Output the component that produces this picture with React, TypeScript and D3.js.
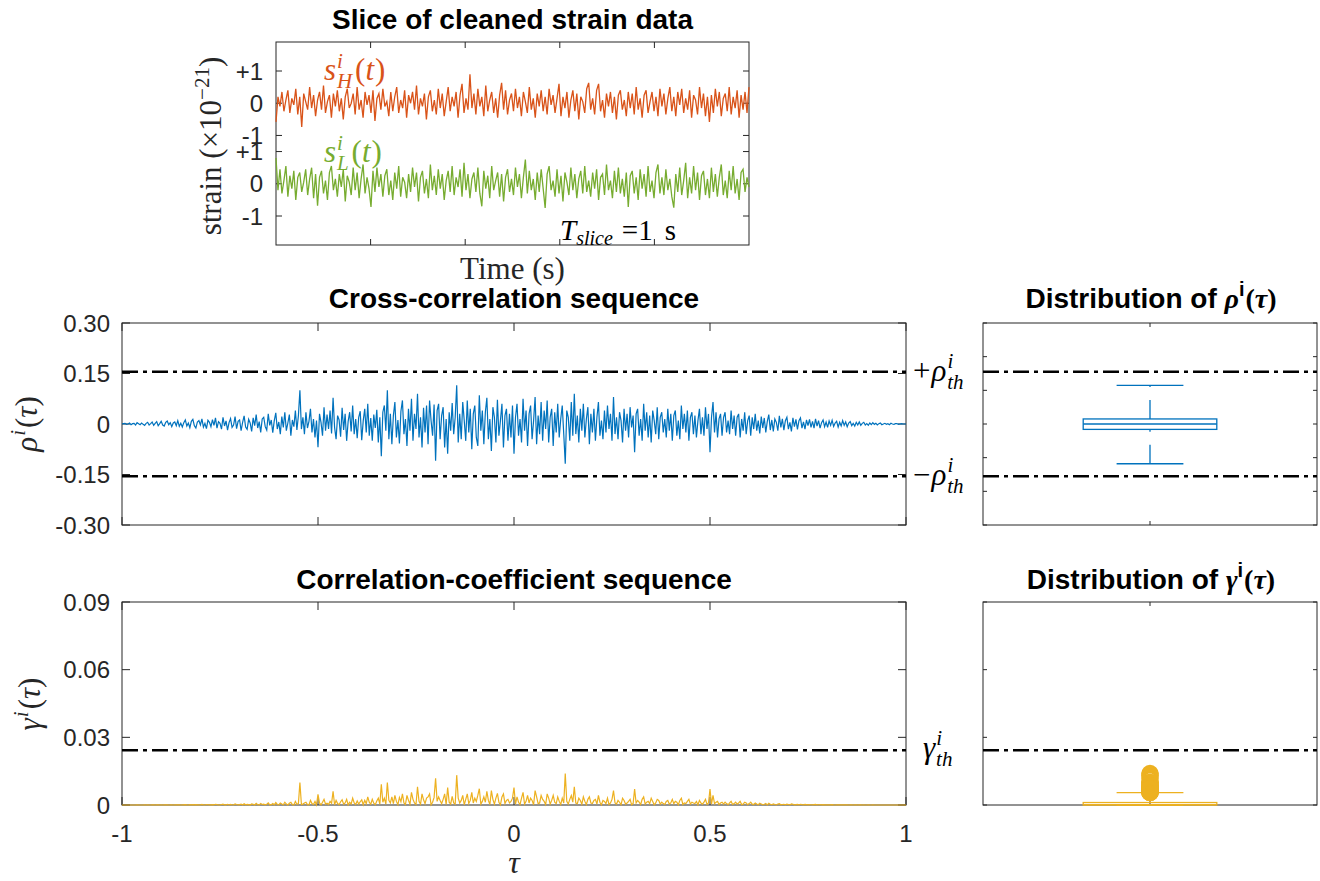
import React, { useEffect, useRef } from 'react'
import * as d3 from 'd3'

// strain slice, units of 1e-23 (hundredths of 1e-21), 240 samples over 1 s
const strainH = [
  -58, 20, -10, 35, -25, 10, 40, -30, 15, -5, 45, -35, 20, -74, 30, 5, -20, 50, -15, 25,
  -40, 10, 35, -20, 55, -30, 5, 25, -45, 30, -10, 40, -25, 15, -50, 20, 45, -15, 0, 30,
  -35, 50, -20, 10, -45, 35, -5, 25, -30, 40, -55, 15, 30, -20, 45, -10, 5, -40, 35, -25,
  20, 50, -30, 10, -15, 40, -45, 25, 0, 35, -20, 55, -35, 15, -10, 30, -50, 20, 40, -25,
  10, -35, 45, -15, 30, -40, 5, 50, -25, 20, -10, 35, -45, 25, 60, -30, 15, -20, 90, -15,
  30, -35, 45, -10, 20, -40, 55, -25, 10, 35, -30, 15, -45, 25, 63, -20, 40, -35, 10, 30,
  -25, 45, -15, 20, -40, 35, 5, -30, 50, -20, 15, -45, 30, -10, 40, -25, 20, -35, 45, -5,
  25, -30, 15, 60, -40, 20, -15, 35, -45, 10, 40, -25, 30, -50, 20, 5, -30, 45, 63, -20,
  15, -35, 40, 60, -25, 10, -45, 30, -10, 35, -30, 20, -50, 25, 40, -20, 10, -40, 35, -15,
  30, -35, 50, -20, 15, -45, 25, 40, -30, 5, 35, -25, 20, -40, 45, -10, 30, -35, 15, 50,
  -25, 20, -40, 35, -5, 45, -30, 15, -20, 40, -45, 25, 10, -35, 50, -15, 30, -40, 20, -58,
  25, -30, 45, -10, 35, -40, 15, 30, -25, 50, -35, 20, -15, 40, -45, 25, -20, 35, -30, 50
]
const strainL = [
  80, -20, 45, -30, 10, 55, -40, 25, -15, 40, -50, 20, 35, -25, 5, 45, -35, 15, 50, -45,
  30, -68, 20, 40, -30, 10, -50, 35, 55, -20, 15, -40, 30, -10, 45, -55, 25, 5, -35, 50,
  -20, 35, -45, 15, 60, -30, 20, -15, -72, 40, -25, 50, -10, 30, -40, 25, 45, -35, 10, -50,
  35, -15, 55, -40, 20, 5, -45, 30, -25, 50, -10, 35, -55, 20, 40, -30, 15, -45, 60, -20,
  25, -35, 45, -15, 30, -50, 10, 40, -25, 55, -35, 20, -10, 45, -40, 65, -20, 30, -45, 15,
  35, -25, 50, -30, -70, 40, -15, 25, -45, 55, -20, 10, 35, -40, 30, -55, 20, 45, -25, 15,
  -35, 50, -10, 30, -45, 20, 75, -30, 40, -20, 15, -50, 35, -25, 45, -15, -75, 30, 55, -20,
  10, -40, 45, -30, 25, -55, 35, 5, -35, 50, -20, 30, -45, 15, 40, -30, 55, -25, 10, -40,
  35, -15, 45, -50, 20, 30, -35, 60, -20, 10, -45, 40, -25, 50, -30, 15, -40, 35, -72, 25,
  40, -30, 20, -50, 45, -15, 30, -40, 55, -25, 10, -45, 35, 60, -30, 20, -35, 45, -20, 15,
  -40, -74, 30, -25, 50, -35, 10, 65, -45, 20, -30, 55, -20, 35, -50, 25, 40, -35, 15, -45,
  50, -25, 30, -40, 20, 60, -35, 10, -45, 40, -20, 55, -30, 15, -50, 35, 45, -25, 20, -10
]
const strainTicks = [-1, 0, 1]
const strainTickLabels = ['-1', '0', '+1']
const channelOffsets = [2.5, 0] // H drawn above L
const timeTicks = [0.2, 0.4, 0.6, 0.8]

// cross-correlation rho(tau), units of 1e-3, 521 lags from -1 to 1
const rho = [
  0, 1, 2, -1, 0, 3, -2, 1, 2, -3, 4, 1, -2, 3, -1, -4, 2, 5, -3, 1,
  6, -4, 2, 7, -5, 1, 8, -3, -6, 5, 9, -2, 4, -8, 3, 6, -5, 10, -7, 2,
  -9, 4, 12, -6, 3, -11, 8, 14, -5, -12, 6, 10, -3, 15, -9, 2, -14, 11, 5, -8,
  13, -4, 18, -12, 7, 2, -15, 20, -6, 9, -18, 4, 16, -10, -3, 22, -14, 8, 12, -20,
  5, 24, -9, -16, 14, 3, -22, 18, -5, 28, -12, 7, -25, 15, 20, -8, -18, 30, -4, 12,
  -26, 10, 33, -15, 6, -30, 22, -10, 35, -20, 3, 28, -35, 12, -8, 40, -18, 25, 100, -15,
  20, -30, 35, -12, 8, 45, -25, 15, -40, 10, -69, 30, 5, -35, 50, -20, 28, -15, 40, -28,
  78, -10, -45, 25, 12, -38, 48, -18, 30, -50, 8, 35, -22, 55, -30, 15, -42, 20, 38, -48,
  10, 45, -25, 60, -35, 18, -50, 28, -12, 42, -55, 20, -96, 35, 55, -20, 100, -45, 30, -60,
  25, 65, -40, 12, -58, 38, 70, -30, 15, -65, 45, -20, 75, -50, 30, -15, 90, -40, 20, -70,
  48, -25, 55, -60, 70, 10, -35, 58, -109, 40, 60, -45, 25, 50, -70, 15, -88, 35, -20, 62,
  -30, 20, 115, -55, 30, -45, 65, 10, -50, 70, -25, 45, -75, 30, 55, -40, -65, 85, -20, 40,
  -60, 35, 78, -45, 15, -80, 50, 20, -55, 72, -35, 10, 60, -70, 25, 45, -50, 30, -40, 55,
  -88, 20, 60, -35, 15, -55, 75, -20, 40, -65, 30, 55, -45, 10, 80, -60, 25, -30, 65, -50,
  40, -15, 70, -55, 20, 45, -65, 35, -25, 60, -40, 15, 55, -30, -118, 40, 20, -50, 65, -35,
  90, -30, 25, -55, 45, -20, 60, -40, 15, 50, -60, 30, -25, 45, -50, 20, 65, -35, 10, -45,
  40, -25, 55, -15, 30, -50, 80, -30, 20, -45, 35, 10, -55, 45, -20, 30, -40, 50, -10, 25,
  -84, 30, 45, -35, 15, -50, 60, -20, 35, -40, 25, -55, 40, 10, -30, 50, -45, 20, 35, -25,
  15, -40, 45, -20, 30, -50, 25, 40, -35, 10, -45, 55, -15, 30, -25, 40, -50, 20, 35, -30,
  25, -40, 10, 45, -30, 20, -35, 50, -15, 30, -84, 20, 65, -25, 35, -40, 15, 30, -35, 20,
  35, -25, 10, -30, 40, -15, 25, -35, 20, 30, -40, 15, -20, 35, -30, 10, 25, -35, 20, -15,
  30, -20, 10, -28, 22, -12, 18, -25, 8, 28, -18, 12, -22, 15, 5, -20, 24, -10, 15, -18,
  10, 20, -15, 5, -22, 18, -8, 14, -16, 10, 18, -12, 6, -15, 12, -5, 14, -10, 8, -12,
  15, -6, 10, -12, 4, 12, -8, 6, -10, 9, -4, 11, -7, 3, 8, -9, 5, -6, 10, -4,
  6, -8, 3, 7, -5, 2, -6, 5, -3, 6, -4, 2, 5, -3, 1, -4, 3, -2, 4, -1,
  2, -3, 1, 3, -2, 0, 2, -1, 1, -2, 2, 0, -1, 1, 1, -1, 0, 1, 0, 0, 0
]
// correlation coefficient gamma(tau), units of 1e-5, same lags
const gamma = [
  0, 0, 0, 0, 0, 1, 0, 0, 0, 1, 2, 0, 0, 1, 0, 2, 0, 3, 1, 0,
  4, 2, 0, 5, 3, 0, 6, 1, 4, 3, 8, 0, 2, 6, 1, 4, 3, 10, 5, 0,
  8, 2, 14, 4, 1, 12, 6, 20, 3, 14, 4, 10, 1, 23, 8, 0, 20, 12, 3, 6,
  17, 2, 32, 14, 5, 0, 23, 40, 4, 8, 32, 2, 26, 10, 1, 48, 20, 6, 14, 40,
  3, 58, 8, 26, 20, 1, 48, 32, 3, 78, 14, 5, 63, 23, 40, 6, 32, 90, 2, 14,
  68, 10, 109, 23, 4, 90, 48, 10, 123, 40, 1, 78, 123, 14, 6, 160, 32, 63, 1000, 23,
  40, 90, 123, 14, 6, 203, 63, 23, 160, 10, 476, 90, 3, 123, 250, 40, 78, 23, 160, 78,
  608, 10, 203, 63, 14, 144, 230, 32, 90, 250, 6, 123, 48, 303, 90, 23, 176, 40, 144, 230,
  10, 203, 63, 360, 123, 32, 250, 78, 14, 176, 303, 40, 922, 123, 303, 40, 1000, 203, 90, 360,
  63, 423, 160, 14, 336, 144, 490, 90, 23, 423, 203, 40, 563, 250, 90, 23, 810, 160, 40, 490,
  230, 63, 303, 360, 490, 10, 123, 336, 1188, 160, 360, 203, 63, 250, 490, 23, 774, 123, 40, 384,
  90, 40, 1323, 303, 90, 203, 423, 10, 250, 490, 63, 203, 563, 90, 303, 160, 423, 723, 40, 160,
  360, 123, 608, 203, 23, 640, 250, 40, 303, 518, 123, 10, 360, 490, 63, 203, 250, 90, 160, 303,
  774, 40, 360, 123, 23, 303, 563, 40, 160, 423, 90, 303, 203, 10, 640, 360, 63, 90, 423, 250,
  160, 23, 490, 303, 40, 203, 423, 123, 63, 360, 160, 23, 303, 90, 1392, 160, 40, 250, 423, 123,
  810, 90, 63, 303, 203, 40, 360, 160, 23, 250, 360, 90, 63, 203, 250, 40, 423, 123, 10, 203,
  160, 63, 303, 23, 90, 250, 640, 90, 40, 203, 123, 10, 303, 203, 40, 90, 160, 250, 10, 63,
  706, 90, 203, 123, 23, 250, 360, 40, 123, 160, 63, 303, 160, 10, 90, 250, 203, 40, 123, 63,
  23, 160, 203, 40, 90, 250, 63, 160, 123, 10, 203, 303, 23, 90, 63, 160, 250, 40, 123, 90,
  63, 160, 10, 203, 90, 40, 123, 250, 23, 90, 706, 40, 423, 63, 123, 160, 23, 90, 123, 40,
  123, 63, 10, 90, 160, 23, 63, 123, 40, 90, 160, 23, 40, 123, 90, 10, 63, 123, 40, 23,
  90, 40, 10, 78, 48, 14, 32, 63, 6, 78, 32, 14, 48, 23, 3, 40, 58, 10, 23, 32,
  10, 40, 23, 3, 48, 32, 6, 20, 26, 10, 32, 14, 4, 23, 14, 3, 20, 10, 6, 14,
  23, 4, 10, 14, 2, 14, 6, 4, 10, 8, 2, 12, 5, 1, 6, 8, 3, 4, 10, 2,
  4, 6, 1, 5, 3, 0, 4, 3, 1, 4, 2, 0, 3, 1, 0, 2, 1, 0, 2, 0,
  0, 1, 0, 1, 0, 0, 0, 0, 0, 0, 0, 0, 0, 0, 0, 0, 0, 0, 0, 0, 0
]

const tauTicks = [-1, -0.5, 0, 0.5, 1]
const tauTickLabels = ['-1', '-0.5', '0', '0.5', '1']
const rhoTicks = [-0.3, -0.15, 0, 0.15, 0.3]
const rhoTickLabels = ['-0.30', '-0.15', '0', '0.15', '0.30']
const rhoBoxTicks = [-0.3, -0.2, -0.1, 0, 0.1, 0.2, 0.3]
const gammaTicks = [0, 0.03, 0.06, 0.09]
const gammaTickLabels = ['0', '0.03', '0.06', '0.09']

const rhoThreshold = 0.155
const gammaThreshold = 0.0243

// boxplot stats: [lower whisker, q1, median, q3, upper whisker]
const rhoBox = [-0.118, -0.016, 0, 0.015, 0.115]
const gammaBox = [0, 0, 0.0002, 0.0011, 0.0055]

const AX = '#262626'
const SANS = '"Liberation Sans", Arial, Helvetica, sans-serif'
const SERIF = '"Liberation Serif", "Times New Roman", Times, serif'
const C_H = '#D95319'
const C_L = '#77AC30'
const C_RHO = '#0072BD'
const C_GAM = '#EDB120'
const TITLE = 28
const MATH = 31

const topBox = { x: 276, y: 42, w: 473, h: 203 }
const midBox = { x: 122, y: 323, w: 784, h: 202 }
const midRBox = { x: 983, y: 323, w: 334, h: 202 }
const botBox = { x: 122, y: 602, w: 784, h: 203 }
const botRBox = { x: 983, y: 602, w: 334, h: 203 }

function frame(svg: any, b: any, xs: any, ys: any, xTicks: number[], yTicks: number[], len: number) {
  const g = svg.append('g').attr('stroke', AX).attr('stroke-width', 1).attr('fill', 'none')
  g.append('rect').attr('x', b.x).attr('y', b.y).attr('width', b.w).attr('height', b.h)
  xTicks.forEach(v => {
    const x = xs(v)
    g.append('line').attr('x1', x).attr('x2', x).attr('y1', b.y + b.h).attr('y2', b.y + b.h - len)
    g.append('line').attr('x1', x).attr('x2', x).attr('y1', b.y).attr('y2', b.y + len)
  })
  yTicks.forEach(v => {
    const y = ys(v)
    g.append('line').attr('x1', b.x).attr('x2', b.x + len).attr('y1', y).attr('y2', y)
    g.append('line').attr('x1', b.x + b.w).attr('x2', b.x + b.w - len).attr('y1', y).attr('y2', y)
  })
}

// text made of tspans (for super/subscripts)
function rich(parent: any, x: number, y: number, pieces: any[], opts: any) {
  const txt = parent.append('text')
    .attr('x', x).attr('y', y)
    .attr('fill', opts.color || '#000')
    .attr('text-anchor', opts.anchor || 'start')
  if (opts.rotate) txt.attr('transform', `rotate(-90 ${x} ${y})`)
  pieces.forEach(p => {
    const s = txt.append('tspan').text(p.t)
      .attr('font-size', p.size ?? opts.size)
      .attr('font-family', p.font ?? opts.font ?? SERIF)
    if (p.it) s.attr('font-style', 'italic')
    if (p.bold ?? opts.bold) s.attr('font-weight', 'bold')
    if (p.dy) s.attr('dy', p.dy)
    if (p.dx) s.attr('dx', p.dx)
  })
  return txt
}

function dashDot(svg: any, x1: number, x2: number, y: number) {
  svg.append('line')
    .attr('x1', x1).attr('x2', x2).attr('y1', y).attr('y2', y)
    .attr('stroke', '#000').attr('stroke-width', 2.6)
    .attr('stroke-dasharray', '16 5 4 5')
}

function boxPlot(svg: any, xs: any, ys: any, s: number[], color: string) {
  const g = svg.append('g').attr('stroke', color).attr('stroke-width', 1.3).attr('fill', 'none')
  const [lo, q1, med, q3, hi] = s
  // whiskers (dashed), drawn from low value upward
  g.append('line').attr('x1', xs(1)).attr('x2', xs(1)).attr('y1', ys(q3)).attr('y2', ys(hi))
    .attr('stroke-dasharray', '19 13')
  g.append('line').attr('x1', xs(1)).attr('x2', xs(1)).attr('y1', ys(lo)).attr('y2', ys(q1))
    .attr('stroke-dasharray', '19 13')
  // caps
  ;[lo, hi].forEach(v => {
    g.append('line').attr('x1', xs(0.9)).attr('x2', xs(1.1)).attr('y1', ys(v)).attr('y2', ys(v))
  })
  // box + median
  g.append('rect').attr('x', xs(0.8)).attr('width', xs(1.2) - xs(0.8))
    .attr('y', ys(q3)).attr('height', Math.max(ys(q1) - ys(q3), 0.5))
  g.append('line').attr('x1', xs(0.8)).attr('x2', xs(1.2)).attr('y1', ys(med)).attr('y2', ys(med))
}

function App() {
  const ref = useRef<SVGSVGElement>(null)

  useEffect(() => {
    const svg = d3.select(ref.current)
    svg.selectAll('*').remove()

    const yLab = (g: any, b: any, ys: any, ticks: number[], labels: string[], gap: number) => {
      g.append('g').selectAll('text').data(ticks).join('text')
        .attr('x', b.x - gap).attr('y', (d: number) => ys(d)).attr('dy', '0.36em')
        .attr('text-anchor', 'end').attr('font-family', SANS).attr('font-size', 24)
        .attr('fill', AX).text((d: number, i: number) => labels[i])
    }
    const title = (txt: string, x: number, y: number) => {
      svg.append('text').text(txt)
        .attr('x', x).attr('y', y).attr('text-anchor', 'middle')
        .attr('font-family', SANS).attr('font-weight', 'bold').attr('font-size', TITLE)
    }
    const thLabel = (sign: string, sym: string, x: number, y: number) => {
      rich(svg, x, y, [
        { t: sign }, { t: sym, it: true, dx: sign ? 1 : 0 },
        { t: 'i', it: true, size: 21, dy: -13, dx: 1 },
        { t: 'th', it: true, size: 21, dy: 21, dx: -6 }
      ], { size: MATH, color: '#000' })
    }

    // ---------- TOP: STRAIN SLICE ----------
    const xT = d3.scaleLinear().domain([0, 1]).range([topBox.x, topBox.x + topBox.w])
    const yT = d3.scaleLinear().domain([-1.9, 4.4]).range([topBox.y + topBox.h, topBox.y])
    const sTicks = channelOffsets.flatMap(o => strainTicks.map(t => t + o))
    const sLabels = channelOffsets.flatMap(() => strainTickLabels)
    frame(svg, topBox, xT, yT, timeTicks, sTicks, 6)
    yLab(svg, topBox, yT, sTicks, sLabels, 13)

    const strainLine = (data: number[], off: number) => d3.line<number>()
      .x((d, i) => xT(i / (data.length - 1)))
      .y(d => yT(d / 100 + off))(data)
    svg.append('path').attr('d', strainLine(strainH, channelOffsets[0]))
      .attr('fill', 'none').attr('stroke', C_H).attr('stroke-width', 1.3)
    svg.append('path').attr('d', strainLine(strainL, channelOffsets[1]))
      .attr('fill', 'none').attr('stroke', C_L).attr('stroke-width', 1.3)

    const sLabel = (sub: string, y: number, color: string) => rich(svg, 324, y, [
      { t: 's', it: true }, { t: 'i', it: true, size: 21, dy: -12, dx: 1 },
      { t: sub, it: true, size: 21, dy: 20, dx: -6 },
      { t: '(', dy: -8, dx: 3 }, { t: 't', it: true }, { t: ')', dx: 1 }
    ], { size: MATH, color })
    sLabel('H', 80, C_H)
    sLabel('L', 161.5, C_L)
    rich(svg, 560, 240, [
      { t: 'T', it: true }, { t: 'slice', it: true, size: 20, dy: 5 },
      { t: '=1', dy: -5, dx: 9 }, { t: 's', dx: 12 }
    ], { size: 29, color: '#000' })

    title('Slice of cleaned strain data', topBox.x + topBox.w / 2, 29)
    rich(svg, 221, 146, [
      { t: 'strain (×10' }, { t: '−21', size: 21, dy: -12 }, { t: ')', dy: 12 }
    ], { size: MATH, anchor: 'middle', rotate: true, color: AX })
    svg.append('text').text('Time (s)')
      .attr('x', topBox.x + topBox.w / 2).attr('y', 279).attr('text-anchor', 'middle')
      .attr('font-family', SERIF).attr('font-size', MATH).attr('fill', AX)

    // ---------- MIDDLE: CROSS-CORRELATION ----------
    const xM = d3.scaleLinear().domain([-1, 1]).range([midBox.x, midBox.x + midBox.w])
    const yM = d3.scaleLinear().domain([-0.3, 0.3]).range([midBox.y + midBox.h, midBox.y])
    frame(svg, midBox, xM, yM, tauTicks, rhoTicks, 8)
    yLab(svg, midBox, yM, rhoTicks, rhoTickLabels, 12)
    dashDot(svg, midBox.x, midBox.x + midBox.w, yM(rhoThreshold))
    dashDot(svg, midBox.x, midBox.x + midBox.w, yM(-rhoThreshold))
    const tauLine = (ys: any, k: number, n: number) => d3.line<number>()
      .x((d, i) => xM(-1 + (2 * i) / (n - 1)))
      .y(d => ys(d / k))
    svg.append('path').attr('d', tauLine(yM, 1000, rho.length)(rho))
      .attr('fill', 'none').attr('stroke', C_RHO).attr('stroke-width', 1.2)
    title('Cross-correlation sequence', midBox.x + midBox.w / 2, 308)
    rich(svg, 37, 424, [
      { t: 'ρ', it: true }, { t: 'i', it: true, size: 21, dy: -12, dx: 1 }, { t: '(', dy: 12, dx: 2 }, { t: 'τ', it: true }, { t: ')' }
    ], { size: MATH, anchor: 'middle', rotate: true, color: AX })

    // ---------- MIDDLE RIGHT: DISTRIBUTION OF RHO ----------
    const xB = d3.scaleLinear().domain([0.5, 1.5]).range([midRBox.x, midRBox.x + midRBox.w])
    const yMR = d3.scaleLinear().domain([-0.3, 0.3]).range([midRBox.y + midRBox.h, midRBox.y])
    frame(svg, midRBox, xB, yMR, [1], rhoBoxTicks, 4)
    dashDot(svg, midRBox.x, midRBox.x + midRBox.w, yMR(rhoThreshold))
    dashDot(svg, midRBox.x, midRBox.x + midRBox.w, yMR(-rhoThreshold))
    boxPlot(svg, xB, yMR, rhoBox, C_RHO)
    rich(svg, 1151, 308, [
      { t: 'Distribution of ', font: SANS }, { t: 'ρ', it: true }, { t: 'i', font: SANS, size: 20, dy: -12 },
      { t: '(', dy: 12, dx: 1 }, { t: 'τ', it: true }, { t: ')' }
    ], { size: TITLE, anchor: 'middle', bold: true })
    thLabel('+', 'ρ', 913, yMR(rhoThreshold) + 9)
    thLabel('−', 'ρ', 913, yMR(-rhoThreshold) + 9)

    // ---------- BOTTOM: CORRELATION COEFFICIENT ----------
    const yG = d3.scaleLinear().domain([0, 0.09]).range([botBox.y + botBox.h, botBox.y])
    frame(svg, botBox, xM, yG, tauTicks, gammaTicks, 8)
    yLab(svg, botBox, yG, gammaTicks, gammaTickLabels, 12)
    svg.append('g').selectAll('text').data(tauTicks).join('text')
      .attr('x', (d: number) => xM(d)).attr('y', 842).attr('text-anchor', 'middle')
      .attr('font-family', SANS).attr('font-size', 24).attr('fill', AX)
      .text((d: number, i: number) => tauTickLabels[i])
    dashDot(svg, botBox.x, botBox.x + botBox.w, yG(gammaThreshold))
    svg.append('path').attr('d', tauLine(yG, 1e5, gamma.length)(gamma))
      .attr('fill', 'none').attr('stroke', C_GAM).attr('stroke-width', 1.2)
    title('Correlation-coefficient sequence', botBox.x + botBox.w / 2, 589)
    rich(svg, 40, 704, [
      { t: 'γ', it: true }, { t: 'i', it: true, size: 21, dy: -12, dx: 1 }, { t: '(', dy: 12, dx: 2 }, { t: 'τ', it: true }, { t: ')' }
    ], { size: MATH, anchor: 'middle', rotate: true, color: AX })
    svg.append('text').text('τ')
      .attr('x', botBox.x + botBox.w / 2).attr('y', 873).attr('text-anchor', 'middle')
      .attr('font-family', SERIF).attr('font-style', 'italic').attr('font-size', 32).attr('fill', AX)

    // ---------- BOTTOM RIGHT: DISTRIBUTION OF GAMMA ----------
    const yGR = d3.scaleLinear().domain([0, 0.09]).range([botRBox.y + botRBox.h, botRBox.y])
    frame(svg, botRBox, xB, yGR, [1], gammaTicks, 4)
    dashDot(svg, botRBox.x, botRBox.x + botRBox.w, yGR(gammaThreshold))
    boxPlot(svg, xB, yGR, gammaBox, C_GAM)
    const outliers = gamma.map(v => v / 1e5).filter(v => v > gammaBox[4])
    svg.append('g').selectAll('circle').data(outliers).join('circle')
      .attr('cx', xB(1)).attr('cy', (d: number) => yGR(d)).attr('r', 6.8)
      .attr('fill', 'none').attr('stroke', C_GAM).attr('stroke-width', 4)
    rich(svg, 1151, 589, [
      { t: 'Distribution of ', font: SANS }, { t: 'γ', it: true }, { t: 'i', font: SANS, size: 20, dy: -12 },
      { t: '(', dy: 12, dx: 1 }, { t: 'τ', it: true }, { t: ')' }
    ], { size: TITLE, anchor: 'middle', bold: true })
    thLabel('', 'γ', 923, yGR(gammaThreshold) + 8)
  }, [])

  return (
    <svg ref={ref} width={1320} height={881}
      style={{ position: 'absolute', left: 0, top: 0, background: '#fff' }} />
  )
}

export default App
